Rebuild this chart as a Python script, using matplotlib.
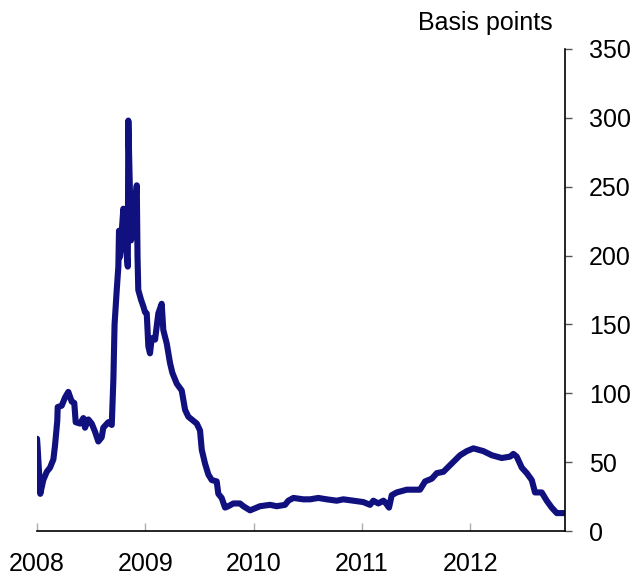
import matplotlib
matplotlib.use("Agg")
import matplotlib.pyplot as plt

plt.rcParams['font.family'] = ['Liberation Sans', 'DejaVu Sans']

# decimal years and spread in basis points
years = [2008.000, 2008.006, 2008.030, 2008.058, 2008.090, 2008.120, 2008.151, 2008.166,
         2008.187, 2008.191, 2008.228, 2008.259, 2008.289, 2008.320, 2008.344, 2008.357,
         2008.397, 2008.428, 2008.443, 2008.474, 2008.505, 2008.536, 2008.566, 2008.597,
         2008.612, 2008.658, 2008.690, 2008.705, 2008.716, 2008.736, 2008.751, 2008.757,
         2008.766, 2008.797, 2008.819, 2008.838, 2008.843, 2008.868, 2008.889, 2008.921,
         2008.928, 2008.935, 2008.960, 2008.982, 2008.997, 2009.013, 2009.028, 2009.043,
         2009.059, 2009.090, 2009.120, 2009.151, 2009.166, 2009.198, 2009.228, 2009.249,
         2009.290, 2009.336, 2009.367, 2009.397, 2009.475, 2009.505, 2009.521, 2009.551,
         2009.582, 2009.613, 2009.659, 2009.674, 2009.705, 2009.736, 2009.766, 2009.813,
         2009.874, 2009.905, 2009.967, 2010.059, 2010.151, 2010.213, 2010.290, 2010.320,
         2010.367, 2010.459, 2010.521, 2010.597, 2010.675, 2010.767, 2010.828, 2010.921,
         2011.013, 2011.075, 2011.105, 2011.151, 2011.198, 2011.213, 2011.250, 2011.275,
         2011.321, 2011.414, 2011.536, 2011.583, 2011.645, 2011.691, 2011.752, 2011.829,
         2011.906, 2011.968, 2012.029, 2012.121, 2012.199, 2012.291, 2012.368, 2012.398,
         2012.429, 2012.476, 2012.522, 2012.568, 2012.598, 2012.660, 2012.706, 2012.752,
         2012.799, 2012.875]
spread = [67, 60, 27, 37, 43, 46, 52, 62,
          80, 90, 91, 97, 101, 94, 93, 79,
          78, 82, 75, 81, 78, 72, 65, 68,
          75, 79, 77, 110, 150, 175, 192, 218,
          199, 234, 209, 192, 298, 211, 222, 251,
          199, 175, 168, 163, 159, 158, 134, 129,
          140, 139, 158, 165, 146, 136, 122, 115,
          107, 102, 88, 83, 78, 73, 59, 49,
          41, 37, 36, 27, 24, 17, 18, 20,
          20, 18, 15, 18, 19, 18, 19, 22,
          24, 23, 23, 24, 23, 22, 23, 22,
          21, 19, 22, 20, 22, 21, 17, 26,
          28, 30, 30, 36, 38, 42, 43, 49,
          55, 58, 60, 58, 55, 53, 54, 56,
          54, 46, 42, 37, 28, 28, 22, 17,
          13, 13]

year_ticks = [2008, 2009, 2010, 2011, 2012]
value_ticks = [0, 50, 100, 150, 200, 250, 300, 350]

fig = plt.figure(figsize=(6.35, 5.79), dpi=100)
ax = fig.add_axes([0.0583, 0.0829, 0.8315, 0.8325])

ax.plot(years, spread, color='#10107f', lw=4.4, solid_joinstyle='round', solid_capstyle='round')

ax.set_xlim(2008, 2012.875)
ax.set_ylim(0, 350)
ax.set_xticks(year_ticks)
ax.set_xticklabels([str(y) for y in year_ticks])
ax.set_yticks(value_ticks)

ax.spines['left'].set_visible(False)
ax.spines['top'].set_visible(False)
ax.spines['bottom'].set_linewidth(1.2)
ax.spines['right'].set_linewidth(1.2)

ax.yaxis.tick_right()
ax.tick_params(axis='y', direction='out', length=5, width=1, color='#555555',
               labelsize=18, pad=12)
ax.tick_params(axis='x', direction='in', length=6, width=1, color='#aaaaaa',
               labelsize=18, pad=15)

fig.text(553 / 635, 1 - 30 / 579, 'Basis points', fontsize=18, ha='right', va='baseline')

fig.savefig('out.png', dpi=100)
